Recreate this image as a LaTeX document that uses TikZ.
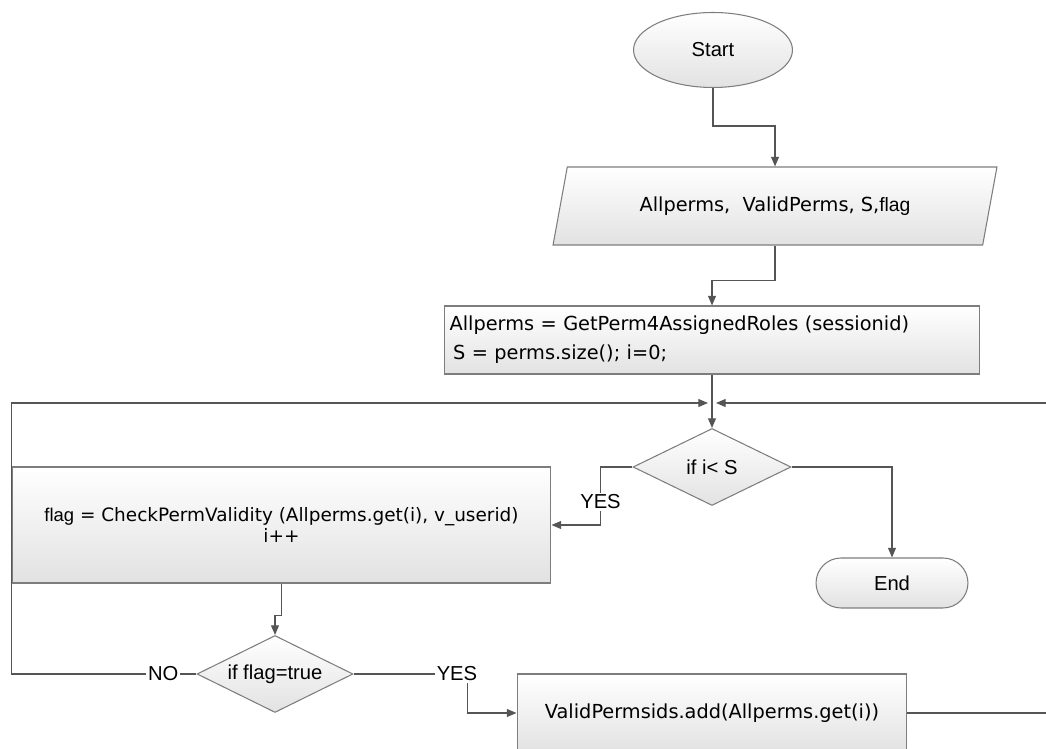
\documentclass[tikz,border=0pt]{standalone}
\usepackage{fontspec}
\setmainfont{Liberation Sans}
\newfontfamily\codefont{DejaVu Sans}
\usepackage{tikz}
\usetikzlibrary{arrows.meta,shapes.geometric,shapes.misc,positioning,calc}
\definecolor{edge}{RGB}{125,125,125}
\definecolor{wire}{RGB}{85,85,85}
\definecolor{shadebot}{RGB}{226,226,226}

\begin{document}
\begin{tikzpicture}[
  x=0.02cm, y=-0.02cm,
  base/.style={draw=edge,line width=0.6pt,top color=white,bottom color=shadebot,inner sep=2pt,font=\fontsize{11.5}{13}\selectfont},
  termbox/.style={base,ellipse,minimum width=3.18cm,minimum height=1.5cm},
  endbox/.style={base,rounded rectangle,minimum width=3.18cm,minimum height=1cm},
  iobox/.style={base,trapezium,trapezium left angle=61,trapezium right angle=119,trapezium stretches body,minimum width=8.88cm,minimum height=1.56cm,font=\codefont\fontsize{11}{13}\selectfont},
  procbox/.style={base,rectangle,font=\codefont\fontsize{11}{13}\selectfont},
  decbox/.style={base,diamond,aspect=2.05,inner sep=0pt,minimum width=3.16cm,minimum height=1.54cm},
  conn/.style={draw=wire,line width=0.7pt},
  arr/.style={conn,-{Triangle[length=5.5pt,width=4.5pt]}},
  lbl/.style={fill=white,inner sep=1pt,font=\fontsize{11.5}{13}\selectfont}
]
  \useasboundingbox (0,0) rectangle (1046,749);
  \clip (0,0) rectangle (1046,749);

  % Terminals and input
  \node[termbox] (start) at (713,50) {Start};
  \node[iobox] (vars) at (775,206) {Allperms,\ \ ValidPerms, S,{\rmfamily flag}};

  % Set-up
  \node[procbox,minimum width=10.72cm,minimum height=1.36cm,text width=10.5cm,align=left,
        font=\codefont\fontsize{11}{16.5}\selectfont] (init) at (712,340)
        {Allperms = GetPerm4AssignedRoles (sessionid)\\\hspace{2pt}S = perms.size(); i=0;};

  % Loop test
  \node[decbox] (chk) at (712,467) {if i< S};
  \node[endbox] (stop) at (892,583) {End};

  % Loop body
  \node[procbox,minimum width=10.78cm,minimum height=2.32cm,align=center,
        font=\codefont\fontsize{10.5}{11.5}\selectfont] (work) at (281.5,525)
        {{\rmfamily flag} = CheckPermValidity (Allperms.get(i), v\_userid)\\i++};
  \node[decbox,minimum width=3.12cm] (test) at (275,674) {if flag=true};
  \node[procbox,minimum width=7.8cm,minimum height=1.56cm] (add) at (712,713)
        {ValidPermsids.add(Allperms.get(i))};

  % Loose ends at the right border
  \coordinate (inL) at (708,403);
  \coordinate (inR) at (716,403);
  \coordinate (farR) at (1046,403);
  \coordinate (farR2) at (1046,713);

  % Arrows
  \draw[arr] (start.south) -- ++(0,38) -| (vars.north);
  \draw[arr] (vars.south) -- ++(0,35) -| (init.north);
  \draw[arr] (init.south) -- (chk.north);
  \draw[arr] (chk.west) -- ++(-32,0) |- node[lbl,pos=0.3]{YES} (work.east);
  \draw[arr] (chk.east) -| (stop.north);
  \draw[arr] (work.south) -- ++(0,32) -| (test.north);
  \draw[arr] (test.west) -- node[lbl,pos=0.18]{NO} (test.west -| work.west) |- (inL);
  \draw[arr] (test.east) -| node[lbl,xshift=-6pt]{YES} ++(114,39) -- (add.west);
  \draw[conn] (add.east) -- (farR2);
  \draw[arr] (farR) -- (inR);
\end{tikzpicture}
\end{document}
